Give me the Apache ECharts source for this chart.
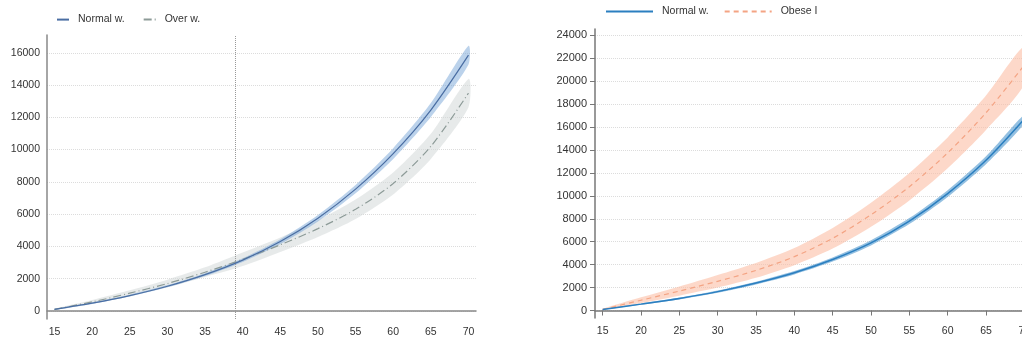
<!DOCTYPE html>
<html>
<head>
<meta charset="utf-8">
<script src="https://cdn.jsdelivr.net/npm/echarts@6/dist/echarts.min.js"></script>
<style>
html,body{margin:0;padding:0;width:1022px;height:348px;overflow:hidden;background:#fff;}
#c1{position:absolute;left:0;top:0;width:530px;height:348px;}
#c2{position:absolute;left:530px;top:0;width:540px;height:348px;}
</style>
</head>
<body>
<div id="c1"></div>
<div id="c2"></div>
<script>
// ---- data ----
const ages = [15, 20, 25, 30, 35, 40, 45, 50, 55, 60, 65, 70];
const xTickLabels = [15, 20, 25, 30, 35, 40, 45, 50, 55, 60, 65, 70];
const yTicksLeft = [0, 2000, 4000, 6000, 8000, 10000, 12000, 14000, 16000];
const yTicksRight = [0, 2000, 4000, 6000, 8000, 10000, 12000, 14000, 16000, 18000, 20000, 22000, 24000];
const cutoffAge = 39;

// Left panel: Normal w. vs Over w.
const normalA    = [100, 480, 950, 1530, 2250, 3150, 4300, 5750, 7550, 9750, 12450, 15850];
const normalA_lo = [70, 430, 890, 1460, 2160, 3040, 4150, 5550, 7290, 9420, 12020, 15270];
const normalA_hi = [130, 530, 1010, 1600, 2340, 3260, 4450, 5950, 7810, 10080, 12880, 16430];
const overA      = [100, 560, 1100, 1700, 2400, 3200, 4100, 5100, 6300, 7900, 10200, 13500];
const overA_lo   = [60, 440, 920, 1460, 2100, 2780, 3650, 4580, 5700, 7220, 9420, 12620];
const overA_hi   = [140, 680, 1280, 1940, 2700, 3620, 4550, 5620, 6900, 8580, 10980, 14380];

// Right panel: Normal w. vs Obese I
const normalB    = [100, 560, 1050, 1650, 2400, 3300, 4450, 5900, 7800, 10200, 13100, 16700];
const normalB_lo = [70, 500, 970, 1550, 2280, 3150, 4270, 5680, 7540, 9900, 12750, 16300];
const normalB_hi = [130, 620, 1130, 1750, 2520, 3450, 4630, 6120, 8060, 10500, 13450, 17100];
const obese      = [100, 900, 1700, 2550, 3500, 4700, 6300, 8350, 10800, 13750, 17250, 21400];
const obese_lo   = [50, 650, 1300, 2000, 2850, 3950, 5400, 7300, 9600, 12400, 15750, 19750];
const obese_hi   = [150, 1150, 2100, 3100, 4150, 5450, 7200, 9400, 12000, 15100, 18750, 23050];

// ---- helpers ----
const FONT = 'Liberation Sans, Arial, sans-serif';
function pairs(vals){ return ages.map((a,i)=>[a, vals[i]]); }
function band(lo, hi, color){
  return {type:'custom', silent:true, clip:true, data:[[ages[0], lo[0]]],
    renderItem:function(params, api){
      const top = ages.map((a,i)=>api.coord([a, hi[i]]));
      const bot = ages.map((a,i)=>api.coord([a, lo[i]])).reverse();
      return {type:'polygon', shape:{points:top.concat(bot), smooth:0.25}, style:{fill:color, stroke:null}};
    }};
}
function line(name, vals, color, width, type){
  return {type:'line', name:name, data:pairs(vals), symbol:'none', smooth:0.3,
          lineStyle:{color:color, width:width, type:type}, itemStyle:{color:color}, z:5};
}
const fmt = v => String(v);

// ---- left chart ----
const c1 = echarts.init(document.getElementById('c1'), null, {renderer:'canvas'});
const leftSeries = [
  band(overA_lo, overA_hi, 'rgba(212,216,216,0.55)'),
  band(normalA_lo, normalA_hi, 'rgba(120,165,215,0.5)'),
  line('Over w.', overA, '#8d9b98', 1.2, [8,3,1,3]),
  Object.assign(line('Normal w.', normalA, '#4a6ea3', 1.2, 'solid'), {
    markLine:{symbol:'none', silent:true, label:{show:false},
      lineStyle:{color:'#999', type:'dotted', width:1},
      data:[{xAxis:cutoffAge}]}
  })
];
c1.setOption({
  animation:false,
  textStyle:{fontFamily:FONT},
  legend:{data:['Normal w.', 'Over w.'], left:56, top:14, padding:0, itemWidth:12, itemHeight:14, itemGap:18,
    itemStyle:{opacity:0},
    textStyle:{fontSize:10.5, color:'#333', fontFamily:FONT, padding:[0,0,0,4]}},
  grid:{left:47, top:35, width:429, height:284},
  xAxis:{type:'value', min:14, max:71,
    axisLine:{lineStyle:{color:'#888', width:1.5}},
    axisTick:{show:false, customValues:xTickLabels},
    axisLabel:{customValues:xTickLabels, formatter:fmt, fontSize:10.5, color:'#333', margin:8, fontFamily:FONT},
    splitLine:{show:false}},
  yAxis:{type:'value', min:-500, max:17100,
    axisLine:{show:true, lineStyle:{color:'#888', width:1.5}},
    axisTick:{show:false, customValues:yTicksLeft},
    axisLabel:{customValues:yTicksLeft, formatter:fmt, fontSize:10.5, color:'#333', margin:7, fontFamily:FONT},
    splitLine:{show:true, lineStyle:{color:'#dcdcdc', type:'dotted', width:1}}},
  series:leftSeries
});

// ---- right chart ----
const c2 = echarts.init(document.getElementById('c2'), null, {renderer:'canvas'});
const rightSeries = [
  band(obese_lo, obese_hi, 'rgba(252,190,165,0.6)'),
  band(normalB_lo, normalB_hi, 'rgba(60,140,200,0.55)'),
  line('Obese I', obese, '#f4a484', 1.2, [5,4]),
  line('Normal w.', normalB, '#2b7fc0', 1.5, 'solid')
];
c2.setOption({
  animation:false,
  textStyle:{fontFamily:FONT},
  legend:{data:['Normal w.', 'Obese I'], left:75, top:6, padding:0, itemWidth:47, itemHeight:14, itemGap:15,
    itemStyle:{opacity:0},
    textStyle:{fontSize:10.5, color:'#333', fontFamily:FONT, padding:[0,0,0,4]}},
  grid:{left:65, top:29, width:437, height:289},
  xAxis:{type:'value', min:14, max:71,
    axisLine:{lineStyle:{color:'#777', width:1.5}},
    axisTick:{show:true, customValues:xTickLabels, length:5, lineStyle:{color:'#777'}},
    axisLabel:{customValues:xTickLabels, formatter:fmt, fontSize:10.5, color:'#333', margin:8, fontFamily:FONT},
    splitLine:{show:false}},
  yAxis:{type:'value', min:-650, max:24550,
    axisLine:{show:true, lineStyle:{color:'#777', width:1.5}},
    axisTick:{show:true, customValues:yTicksRight, length:5, lineStyle:{color:'#777'}},
    axisLabel:{customValues:yTicksRight, formatter:fmt, fontSize:11, color:'#333', margin:8, fontFamily:FONT},
    splitLine:{show:true, lineStyle:{color:'#dcdcdc', type:'dotted', width:1}}},
  series:rightSeries
});
</script>
</body>
</html>
